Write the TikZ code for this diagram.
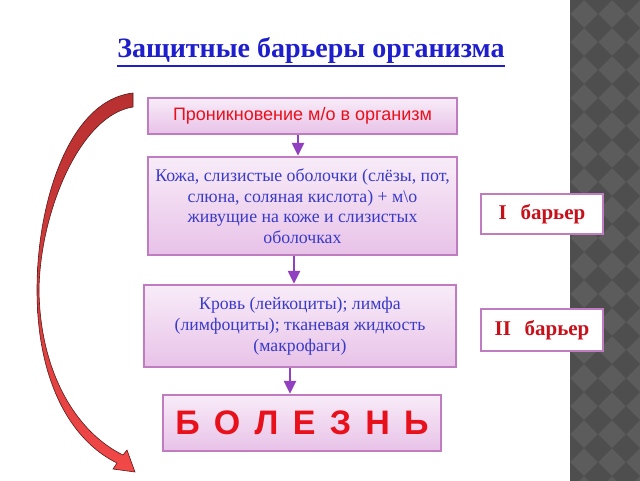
\documentclass[tikz,border=0pt]{standalone}
\usepackage{fontspec}
\setmainfont{Liberation Serif}
\setsansfont{Liberation Sans}
\usetikzlibrary{arrows.meta,calc}
\definecolor{boxline}{HTML}{C07CC0}
\definecolor{boxtop}{HTML}{F8ECF8}
\definecolor{boxbot}{HTML}{E8C2E8}
\definecolor{flowcol}{HTML}{9040C0}
\definecolor{textblue}{HTML}{3A3AC8}
\definecolor{titleblue}{HTML}{1E1ECC}
\definecolor{textred}{HTML}{E8101A}
\definecolor{barred}{HTML}{C8101A}
\definecolor{panel}{HTML}{5C5C5C}
\definecolor{panelddark}{HTML}{4E4E4E}
\tikzset{
  stagebox/.style={draw=boxline, line width=2.5pt, top color=boxtop, bottom color=boxbot,
    align=center, inner sep=0pt},
  barbox/.style={draw=boxline, line width=2.5pt, fill=white, inner sep=0pt,
    font=\fontsize{21}{22}\selectfont\bfseries, text=barred},
  flow/.style={draw=flowcol, line width=2.5pt, -{Triangle[length=13pt,width=12pt]}},
}
\begin{document}
\begin{tikzpicture}[x=1pt,y=-1pt]
            
                \useasboundingbox (0,0) rectangle (640,480);
                \fill[white] (0,0) rectangle (640,480);
                
                % checkered side panel
                \begin{scope}
                \clip (570,0) rectangle (640,480);
                \fill[panel] (570,-5) rectangle (645,485);
                \foreach \i in {0,...,3} {
                  \foreach \j in {0,...,18} {
                    \fill[panelddark] (570+28*\i,28*\j-14) -- ++(14,14) -- ++(-14,14) -- ++(-14,-14) -- cycle;
                  }
                }
                \end{scope}
                
                \node[font=\fontsize{28}{30}\selectfont\bfseries, text=titleblue, inner sep=0pt] (title) at (311,50) {Защитные барьеры организма};
                \draw[titleblue, line width=1.6pt] ([yshift=-3]title.south west) -- ([yshift=-3]title.south east);
                
                \node[stagebox, minimum width=309, minimum height=36, text=textred,
                      font=\sffamily\fontsize{18}{20}\selectfont] (pen) at (302.5,116) {Проникновение м/о в организм};
                \node[stagebox, minimum width=309, minimum height=98, text=textblue,
                      font=\fontsize{17.8}{20.5}\selectfont] (skin) at (302.5,206)
                      {Кожа, слизистые оболочки (слёзы, пот,\\ слюна, соляная кислота) + м\textbackslash о\\ живущие на коже и слизистых\\ оболочках};
                \node[stagebox, minimum width=312, minimum height=82, text=textblue,
                      font=\fontsize{17.7}{21}\selectfont] (blood) at (300,326)
                      {Кровь (лейкоциты); лимфа\\ (лимфоциты); тканевая жидкость\\ (макрофаги)};
                \node[stagebox, minimum width=278, minimum height=56, text=textred,
                      font=\sffamily\bfseries\fontsize{34}{36}\selectfont] (ill) at (302,423)
                      {Б\hspace{0.42em}О\hspace{0.42em}Л\hspace{0.42em}Е\hspace{0.42em}З\hspace{0.42em}Н\hspace{0.42em}Ь};
                
                \node[barbox, minimum width=122, minimum height=40] (bar1) at (542,214) {I\hspace{0.65em}барьер};
                \node[barbox, minimum width=122, minimum height=42] (bar2) at (542,330) {II\hspace{0.65em}барьер};
                
                \draw[flow] ([xshift=-4.5]pen.south) -- ([xshift=-4.5]skin.north);
                \draw[flow] ([xshift=-8.5]skin.south) -- ([xshift=-6]blood.north);
                \draw[flow] ([xshift=-10]blood.south) -- ([xshift=-12]ill.north);
                
                % big red return arrow
                \draw[draw={rgb,255:red,90;green,26;blue,26}, line width=0.6pt,
                      top color={rgb,255:red,184;green,48;blue,48}, bottom color={rgb,255:red,242;green,72;blue,72}]
                  (133,93) .. controls (70,100) and (37,200) .. (37,290)
                  .. controls (37,380) and (70,440) .. (117,463)
                  -- (113,469) -- (135,472) -- (127,450) -- (123,455)
                  .. controls (76,432) and (40,372) .. (39,290)
                  .. controls (40,212) and (80,115) .. (133,107) -- cycle;
                
            \end{tikzpicture}
\end{document}
